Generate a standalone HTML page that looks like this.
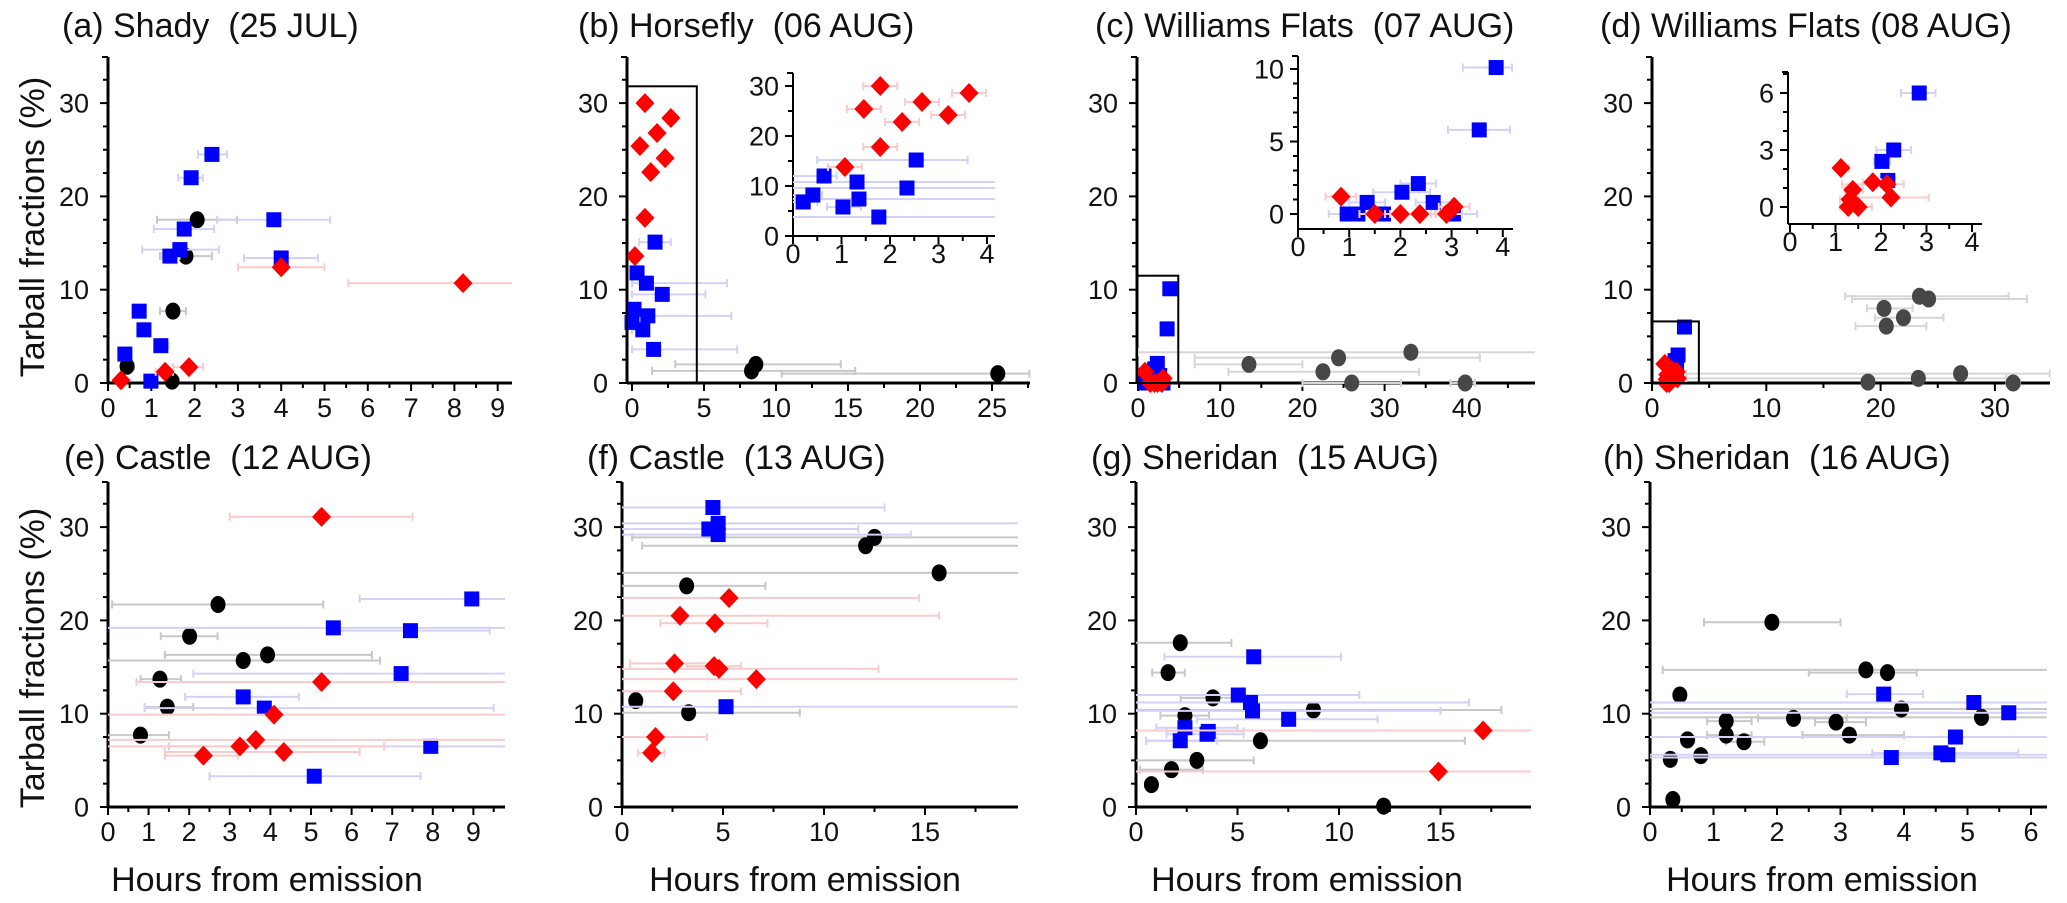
<!DOCTYPE html>
<html>
<head>
<meta charset="utf-8">
<style>
html,body{margin:0;padding:0;background:#fff;}
svg{display:block;font-family:"Liberation Sans",Arial,sans-serif;}
text{white-space:pre;}
</style>
</head>
<body>
<svg id="fig" width="2067" height="903" viewBox="0 0 2067 903" xmlns="http://www.w3.org/2000/svg">
<rect x="0" y="0" width="2067" height="903" fill="#fff"/>
<g font-size="34" fill="#111">
<text x="62" y="37" xml:space="preserve">(a) Shady  (25 JUL)</text>
<text x="578" y="37" xml:space="preserve">(b) Horsefly  (06 AUG)</text>
<text x="1095" y="37" xml:space="preserve">(c) Williams Flats  (07 AUG)</text>
<text x="1600" y="37">(d) Williams Flats (08 AUG)</text>
<text x="64" y="469" xml:space="preserve">(e) Castle  (12 AUG)</text>
<text x="587" y="469" xml:space="preserve">(f) Castle  (13 AUG)</text>
<text x="1091" y="469" xml:space="preserve">(g) Sheridan  (15 AUG)</text>
<text x="1603" y="469" xml:space="preserve">(h) Sheridan  (16 AUG)</text>
<text transform="translate(44,227) rotate(-90)" text-anchor="middle">Tarball fractions (%)</text>
<text transform="translate(44,658) rotate(-90)" text-anchor="middle">Tarball fractions (%)</text>
<text x="267" y="891" text-anchor="middle">Hours from emission</text>
<text x="805" y="891" text-anchor="middle">Hours from emission</text>
<text x="1307" y="891" text-anchor="middle">Hours from emission</text>
<text x="1822" y="891" text-anchor="middle">Hours from emission</text>
</g>
<g id="plots"></g>
</svg>
<script>
// ---------- data ----------
const yTickLabels = ["0","10","20","30"];
const xTicksA = ["0","1","2","3","4","5","6","7","8","9"];
const xTicksB = ["0","5","10","15","20","25"];
const xTicksC = ["0","10","20","30","40"];
const xTicksD = ["0","10","20","30"];
const xTicksE = ["0","1","2","3","4","5","6","7","8","9"];
const xTicksF = ["0","5","10","15"];
const xTicksG = ["0","5","10","15"];
const xTicksH = ["0","1","2","3","4","5","6"];
const insetXTicks = ["0","1","2","3","4"];
const insetBYTicks = ["0","10","20","30"];
const insetCYTicks = ["0","5","10"];
const insetDYTicks = ["0","3","6"];

// (a)
const aBlueX = [2.40,1.92,3.83,1.76,1.66,1.43,4.0,0.72,0.83,1.22,0.39,0.99];
const aBlueY = [24.5,22.0,17.5,16.5,14.3,13.6,13.4,7.7,5.7,4.0,3.1,0.2];
const aBlueLo = [2.08,1.62,2.52,1.06,0.79,1.25,3.14,0.6,0.7,1.1,0.3,0.9];
const aBlueHi = [2.75,2.19,5.13,2.45,2.56,1.65,4.85,0.85,0.95,1.4,0.5,1.1];
const aBlackX = [2.06,1.8,1.5,0.44,1.48];
const aBlackY = [17.5,13.6,7.7,1.8,0.2];
const aBlackLo = [1.13,1.2,1.2,0.3,1.35];
const aBlackHi = [2.98,2.4,1.8,0.6,1.6];
const aRedX = [4.0,8.2,0.3,1.32,1.87];
const aRedY = [12.4,10.7,0.3,1.2,1.7];
const aRedLo = [3.0,5.55,0.2,1.1,1.5];
const aRedHi = [5.0,9.35,0.4,1.5,2.2];
// (b) main
const bRedX = [0.9,0.55,1.74,2.7,2.3,1.3,0.9,0.2];
const bRedY = [30,25.4,26.8,28.4,24.1,22.6,17.7,13.6];
const bBlueX = [1.6,0.35,1.0,2.1,0.14,1.1,0.0,0.75,1.5];
const bBlueY = [15.1,11.8,10.7,9.5,7.9,7.2,6.5,5.7,3.6];
const bBlueLo = [0.5,0,0,0,0,0,0,0,0];
const bBlueHi = [2.7,0.6,6.6,5.1,0.4,6.9,0.3,1.0,7.3];
const bBlackX = [8.6,8.3,25.4];
const bBlackY = [2.0,1.3,1.0];
const bBlackLo = [3.0,1.4,10.4];
const bBlackHi = [14.5,15.5,27.6];
// (b) inset
const bInRedX = [1.07,1.46,1.8,1.8,2.25,2.66,3.2,3.63];
const bInRedY = [13.8,25.4,30,17.8,22.8,26.8,24.2,28.6];
const bInBlueX = [0.21,0.41,0.64,1.03,1.32,1.36,1.77,2.35,2.54];
const bInBlueY = [6.8,8.2,12,5.8,10.8,7.4,3.8,9.6,15.2];
const bInBlueLo = [0,0,0,0.7,0,0,0,0,0.5];
const bInBlueHi = [0.5,0.6,0.9,1.4,4.2,4.2,4.2,4.2,3.6];
// (c)
const cBlueX = [3.87,3.54,2.35,2.03,1.35,2.64,0.96,1.17,1.67,3.04];
const cBlueY = [10.1,5.8,2.1,1.5,0.8,0.8,0,0,0,0];
const cBlueLo = [3.22,2.93,2.0,1.47,1.0,2.3,0.6,0.9,1.3,2.7];
const cBlueHi = [4.18,4.14,2.7,2.58,1.7,3.0,1.3,1.5,2.0,3.5];
const cRedX = [0.84,1.5,2.0,2.38,2.9,3.05];
const cRedY = [1.2,0,0,0,0,0.5];
const cGrayX = [13.5,24.4,33.2,22.5,26.0,39.8];
const cGrayY = [2.0,2.7,3.3,1.2,0,0];
const cGrayLo = [6.9,6.9,0,11,20,38];
const cGrayHi = [20,41.6,48.3,34.2,32,41];
// (d)
const dBlueX = [2.84,2.28,2.02,2.15];
const dBlueY = [6.0,3.0,2.4,1.4];
const dBlueLo = [2.44,1.9,1.85,2.0];
const dBlueHi = [3.2,2.66,2.2,2.3];
const dRedX = [1.12,1.82,2.13,1.38,2.22,1.32,1.28,1.5];
const dRedY = [2.05,1.3,1.2,0.9,0.5,0.4,0,0];
const dRedLo = [1.0,1.6,1.14,1.2,1.4,1.1,1.1,1.3];
const dRedHi = [1.3,2.0,2.5,1.6,3.05,1.5,1.5,1.8];
const dGrayX = [23.4,24.2,20.3,22.0,20.5,27.0,23.3,18.9,31.6];
const dGrayY = [9.3,9.0,8.0,7.0,6.1,1.0,0.5,0.1,0];
const dGrayLo = [16.9,17.5,18.8,19.5,17.8,3,3,18.5,31];
const dGrayHi = [31.2,32.8,22.8,25.5,24,34.8,31,19.3,32.2];
// (e)
const eRedX = [5.26,5.26,4.09,3.64,3.25,4.33,2.35];
const eRedY = [31.1,13.4,9.9,7.2,6.5,5.9,5.5];
const eRedLo = [3.0,0.7,0,0,0,1.4,1.4];
const eRedHi = [7.5,9.8,9.8,9.8,6.8,6.2,3.2];
const eBlueX = [8.96,5.55,7.45,7.22,3.33,3.85,7.95,5.08];
const eBlueY = [22.3,19.2,18.9,14.3,11.8,10.6,6.5,3.3];
const eBlueLo = [6.2,0,5.5,2.1,1.9,0.9,1.5,2.5];
const eBlueHi = [9.8,9.8,9.4,9.8,4.7,9.5,9.8,7.7];
const eBlackX = [2.71,2.01,3.93,3.33,1.28,1.46,0.8];
const eBlackY = [21.7,18.3,16.3,15.7,13.7,10.7,7.7];
const eBlackLo = [0.1,1.3,1.4,0,0.8,0.9,0];
const eBlackHi = [5.3,2.7,6.5,6.7,1.8,2.1,1.5];
// (f)
const fBlueX = [4.5,4.76,4.3,4.76,5.15];
const fBlueY = [32.1,30.4,29.8,29.2,10.75];
const fBlueLo = [0,0,0,0,0];
const fBlueHi = [13,19.6,11.7,14.3,19.6];
const fBlackX = [12.5,12.06,15.7,3.2,0.68,3.3];
const fBlackY = [28.9,28.0,25.1,23.7,11.4,10.1];
const fBlackLo = [0.5,1,0,0,0.4,0];
const fBlackHi = [19.6,19.6,19.6,7.1,1.0,8.8];
const fRedX = [5.3,2.87,4.6,2.6,4.56,4.8,6.65,2.54,1.66,1.47];
const fRedY = [22.4,20.5,19.7,15.4,15.1,14.8,13.7,12.4,7.5,5.8];
const fRedLo = [0,0,1.9,0.4,3.2,0,0,0,0,0.8];
const fRedHi = [14.7,15.7,7.2,4.8,5.9,12.7,19.6,5.9,4.2,2.1];
// (g)
const gBlackX = [2.18,1.58,3.79,8.74,2.41,6.13,3.0,1.75,0.76,12.2];
const gBlackY = [17.6,14.4,11.7,10.4,9.8,7.1,5.0,4.0,2.4,0.1];
const gBlackLo = [0,0.8,2.2,0,1.2,0.5,0,0.2,0.5,12];
const gBlackHi = [4.7,2.4,5,18,3.6,16.2,5.8,3.3,1,12.4];
const gBlueX = [5.8,5.04,5.64,5.74,7.52,2.41,3.56,3.5,2.18];
const gBlueY = [16.1,12.0,11.2,10.3,9.4,8.5,8.1,7.8,7.1];
const gBlueLo = [1.4,0,0,0,3,1,1.5,1.5,0.5];
const gBlueHi = [10.1,11,16.4,15,11.9,5,5.3,5.3,4];
const gRedX = [17.1,14.9];
const gRedY = [8.2,3.8];
const gRedLo = [0,0];
const gRedHi = [19.5,19.5];
// (h)
const hBlackX = [1.92,3.4,3.74,0.47,3.96,1.2,2.26,2.93,5.22,1.2,3.14,0.59,1.48,0.8,0.32,0.36];
const hBlackY = [19.8,14.7,14.4,12.0,10.5,9.2,9.5,9.1,9.6,7.7,7.7,7.2,7.0,5.5,5.1,0.8];
const hBlackLo = [0.85,0.2,2.5,0.4,0,0.9,1.7,2.6,0,0.9,2.4,0.5,1.2,0.7,0.25,0.3];
const hBlackHi = [3.0,6.25,4.2,0.55,6.25,1.6,3.1,3.4,6.25,1.6,4.0,0.7,1.8,0.9,0.4,0.45];
const hBlueX = [3.68,5.1,5.65,4.81,4.58,4.69,3.8];
const hBlueY = [12.1,11.2,10.1,7.5,5.8,5.6,5.3];
const hBlueLo = [3.1,0,0,0,3.5,0,0];
const hBlueHi = [4.3,6.25,6.25,6.25,5.8,6.25,6.25];

// ---------- rendering ----------
const NS = "http://www.w3.org/2000/svg";
const root = document.getElementById("plots");
function mk(tag, attrs, parent) {
  const e = document.createElementNS(NS, tag);
  for (const k in attrs) e.setAttribute(k, attrs[k]);
  (parent || root).appendChild(e);
  return e;
}
const COL = {blue:"#0000ff", red:"#ff0000", black:"#000000", gray:"#474747"};
const ERR = {blue:"#d2d2f6", red:"#f8cccc", black:"#c8c8c8", gray:"#d6d6d6"};

function makeAxes(P) {
  P.sx = v => P.x0 + v * P.xs;
  P.sy = v => P.y0 - v * P.ys;
  return P;
}

function drawAxisFrame(P, name) {
  const g = mk("g", {});
  
  
  const lw = P.inset ? 2 : 3;
  mk("line", {x1:P.left, y1:P.top, x2:P.left, y2:P.xAxisY, stroke:"#000", "stroke-width":lw}, g);
  mk("line", {x1:P.left-6, y1:P.top, x2:P.left, y2:P.top, stroke:"#000", "stroke-width":2}, g);
  mk("line", {x1:P.left, y1:P.xAxisY, x2:P.right, y2:P.xAxisY, stroke:"#000", "stroke-width":lw}, g);
  for (let v = 0; P.sy(v) >= P.top - 0.5; v += P.yMinor) {
    const y = P.sy(v);
    const major = Math.abs(v / P.yMajor - Math.round(v / P.yMajor)) < 1e-6;
    mk("line", {x1:P.left - (major ? 8 : 5), y1:y, x2:P.left, y2:y, stroke:"#000", "stroke-width":2}, g);
  }
  P.yLabels.forEach(lab => {
    const t = mk("text", {x:P.left - (P.inset ? 14 : 19), y:P.sy(parseFloat(lab)) + 9.5, "text-anchor":"end", "font-size":27, fill:"#111"}, g);
    t.textContent = lab;
    
    
  });
  for (let v = 0; P.sx(v) <= P.right + 0.5; v += P.xMinor) {
    const x = P.sx(v);
    const major = Math.abs(v / P.xMajor - Math.round(v / P.xMajor)) < 1e-6;
    mk("line", {x1:x, y1:P.xAxisY, x2:x, y2:P.xAxisY + (major ? 8 : 5), stroke:"#000", "stroke-width":2}, g);
  }
  P.xLabels.forEach(lab => {
    const t = mk("text", {x:P.sx(parseFloat(lab)), y:P.xAxisY + (P.inset ? 27 : 34), "text-anchor":"middle", "font-size":27, fill:"#111"}, g);
    t.textContent = lab;
    
    
  });
}

function drawSeries(P, kind, color, xs, ys, lo, hi, name, defErr) {
  const g = mk("g", {});
  
  
  const maxV = (P.right - P.x0) / P.xs;
  const minV = (P.left - P.x0) / P.xs;
  xs.forEach((xv, i) => {
    let l = lo ? lo[i] : xv - defErr;
    let h = hi ? hi[i] : xv + defErr;
    const capL = l > minV + 0.01, capH = h < maxV - 0.01;
    l = Math.max(l, minV); h = Math.min(h, maxV);
    const y = P.sy(ys[i]);
    const eg = mk("g", {stroke:ERR[color], "stroke-width":2}, g);
    
    
    mk("line", {x1:P.sx(l), y1:y, x2:P.sx(h), y2:y}, eg);
    if (capL) mk("line", {x1:P.sx(l), y1:y-4, x2:P.sx(l), y2:y+4}, eg);
    if (capH) mk("line", {x1:P.sx(h), y1:y-4, x2:P.sx(h), y2:y+4}, eg);
  });
  xs.forEach((xv, i) => {
    const x = P.sx(xv), y = P.sy(ys[i]);
    let m;
    if (kind === "square") m = mk("rect", {x:x-7.5, y:y-7.5, width:15, height:15, fill:COL[color]}, g);
    else if (kind === "circle") m = mk("ellipse", {cx:x, cy:y, rx:7.5, ry:8.5, fill:COL[color]}, g);
    else m = mk("polygon", {points:`${x},${y-10} ${x+9.5},${y} ${x},${y+10} ${x-9.5},${y}`, fill:COL[color]}, g);
    
    
  });
}

function box(P, xMaxV, yMaxV, name) {
  const r = mk("rect", {x:P.left, y:P.sy(yMaxV), width:P.sx(xMaxV) - P.left, height:P.xAxisY - P.sy(yMaxV), fill:"none", stroke:"#000", "stroke-width":2});
  
  
}

const TOP = {y0:383, ys:9.33, top:57, xAxisY:383};
const BOT = {y0:807, ys:9.33, top:482, xAxisY:807};
function main(rowObj, o) {
  return makeAxes(Object.assign({yMajor:10, yMinor:2.5, yLabels:yTickLabels}, rowObj, o));
}

const PA = main(TOP, {x0:108, xs:43.3, left:108, right:512, xMajor:1, xMinor:0.5, xLabels:xTicksA});
drawAxisFrame(PA, "panel-a");
drawSeries(PA, "circle", "black", aBlackX, aBlackY, aBlackLo, aBlackHi, "a-black-series");
drawSeries(PA, "square", "blue", aBlueX, aBlueY, aBlueLo, aBlueHi, "a-blue-series");
drawSeries(PA, "diamond", "red", aRedX, aRedY, aRedLo, aRedHi, "a-red-series");

const PB = main(TOP, {x0:632, xs:14.4, left:627, right:1030, xMajor:5, xMinor:2.5, xLabels:xTicksB});
drawAxisFrame(PB, "panel-b");
drawSeries(PB, "circle", "black", bBlackX, bBlackY, bBlackLo, bBlackHi, "b-black-series");
drawSeries(PB, "square", "blue", bBlueX, bBlueY, bBlueLo, bBlueHi, "b-blue-series");
drawSeries(PB, "diamond", "red", bRedX, bRedY, null, null, "b-red-series", 0.1);
box(PB, 4.5, 31.8, "b-zoom-box");
const PBI = makeAxes({inset:true, x0:793, xs:48.5, left:793, right:995, y0:236, ys:5, top:73, xAxisY:236,
  xMajor:1, xMinor:0.5, yMajor:10, yMinor:5, xLabels:insetXTicks, yLabels:insetBYTicks});
drawAxisFrame(PBI, "inset-b");
drawSeries(PBI, "square", "blue", bInBlueX, bInBlueY, bInBlueLo, bInBlueHi, "b-inset-blue-series");
drawSeries(PBI, "diamond", "red", bInRedX, bInRedY, null, null, "b-inset-red-series", 0.35);

const PC = main(TOP, {x0:1138, xs:8.22, left:1137, right:1535, xMajor:10, xMinor:5, xLabels:xTicksC});
drawAxisFrame(PC, "panel-c");
drawSeries(PC, "circle", "gray", cGrayX, cGrayY, cGrayLo, cGrayHi, "c-gray-series");
drawSeries(PC, "square", "blue", cBlueX, cBlueY, null, null, "c-blue-series", 0.1);
drawSeries(PC, "diamond", "red", cRedX, cRedY, null, null, "c-red-series", 0.1);
box(PC, 4.9, 11.5, "c-zoom-box");
const PCI = makeAxes({inset:true, x0:1298, xs:51.2, left:1298, right:1513, y0:214, ys:14.5, top:56, xAxisY:229,
  xMajor:1, xMinor:0.5, yMajor:5, yMinor:1, xLabels:insetXTicks, yLabels:insetCYTicks});
drawAxisFrame(PCI, "inset-c");
drawSeries(PCI, "square", "blue", cBlueX, cBlueY, cBlueLo, cBlueHi, "c-inset-blue-series");
drawSeries(PCI, "diamond", "red", cRedX, cRedY, null, null, "c-inset-red-series", 0.3);

const PD = main(TOP, {x0:1652, xs:11.43, left:1652, right:2050, xMajor:10, xMinor:5, xLabels:xTicksD});
drawAxisFrame(PD, "panel-d");
drawSeries(PD, "circle", "gray", dGrayX, dGrayY, dGrayLo, dGrayHi, "d-gray-series");
drawSeries(PD, "square", "blue", dBlueX, dBlueY, null, null, "d-blue-series", 0.1);
drawSeries(PD, "diamond", "red", dRedX, dRedY, null, null, "d-red-series", 0.1);
box(PD, 4.1, 6.6, "d-zoom-box");
const PDI = makeAxes({inset:true, x0:1790, xs:45.5, left:1788, right:1982, y0:207, ys:19, top:72, xAxisY:224,
  xMajor:1, xMinor:0.5, yMajor:3, yMinor:1, xLabels:insetXTicks, yLabels:insetDYTicks});
drawAxisFrame(PDI, "inset-d");
drawSeries(PDI, "square", "blue", dBlueX, dBlueY, dBlueLo, dBlueHi, "d-inset-blue-series");
drawSeries(PDI, "diamond", "red", dRedX, dRedY, dRedLo, dRedHi, "d-inset-red-series");

const PE = main(BOT, {x0:108, xs:40.6, left:108, right:505, xMajor:1, xMinor:0.5, xLabels:xTicksE});
drawAxisFrame(PE, "panel-e");
drawSeries(PE, "circle", "black", eBlackX, eBlackY, eBlackLo, eBlackHi, "e-black-series");
drawSeries(PE, "square", "blue", eBlueX, eBlueY, eBlueLo, eBlueHi, "e-blue-series");
drawSeries(PE, "diamond", "red", eRedX, eRedY, eRedLo, eRedHi, "e-red-series");

const PF = main(BOT, {x0:622, xs:20.2, left:622, right:1018, xMajor:5, xMinor:2.5, xLabels:xTicksF});
drawAxisFrame(PF, "panel-f");
drawSeries(PF, "circle", "black", fBlackX, fBlackY, fBlackLo, fBlackHi, "f-black-series");
drawSeries(PF, "square", "blue", fBlueX, fBlueY, fBlueLo, fBlueHi, "f-blue-series");
drawSeries(PF, "diamond", "red", fRedX, fRedY, fRedLo, fRedHi, "f-red-series");

const PG = main(BOT, {x0:1136, xs:20.3, left:1136, right:1531, xMajor:5, xMinor:2.5, xLabels:xTicksG});
drawAxisFrame(PG, "panel-g");
drawSeries(PG, "circle", "black", gBlackX, gBlackY, gBlackLo, gBlackHi, "g-black-series");
drawSeries(PG, "square", "blue", gBlueX, gBlueY, gBlueLo, gBlueHi, "g-blue-series");
drawSeries(PG, "diamond", "red", gRedX, gRedY, gRedLo, gRedHi, "g-red-series");

const PH = main(BOT, {x0:1650, xs:63.5, left:1650, right:2047, xMajor:1, xMinor:0.5, xLabels:xTicksH});
drawAxisFrame(PH, "panel-h");
drawSeries(PH, "circle", "black", hBlackX, hBlackY, hBlackLo, hBlackHi, "h-black-series");
drawSeries(PH, "square", "blue", hBlueX, hBlueY, hBlueLo, hBlueHi, "h-blue-series");
</script>
</body>
</html>
